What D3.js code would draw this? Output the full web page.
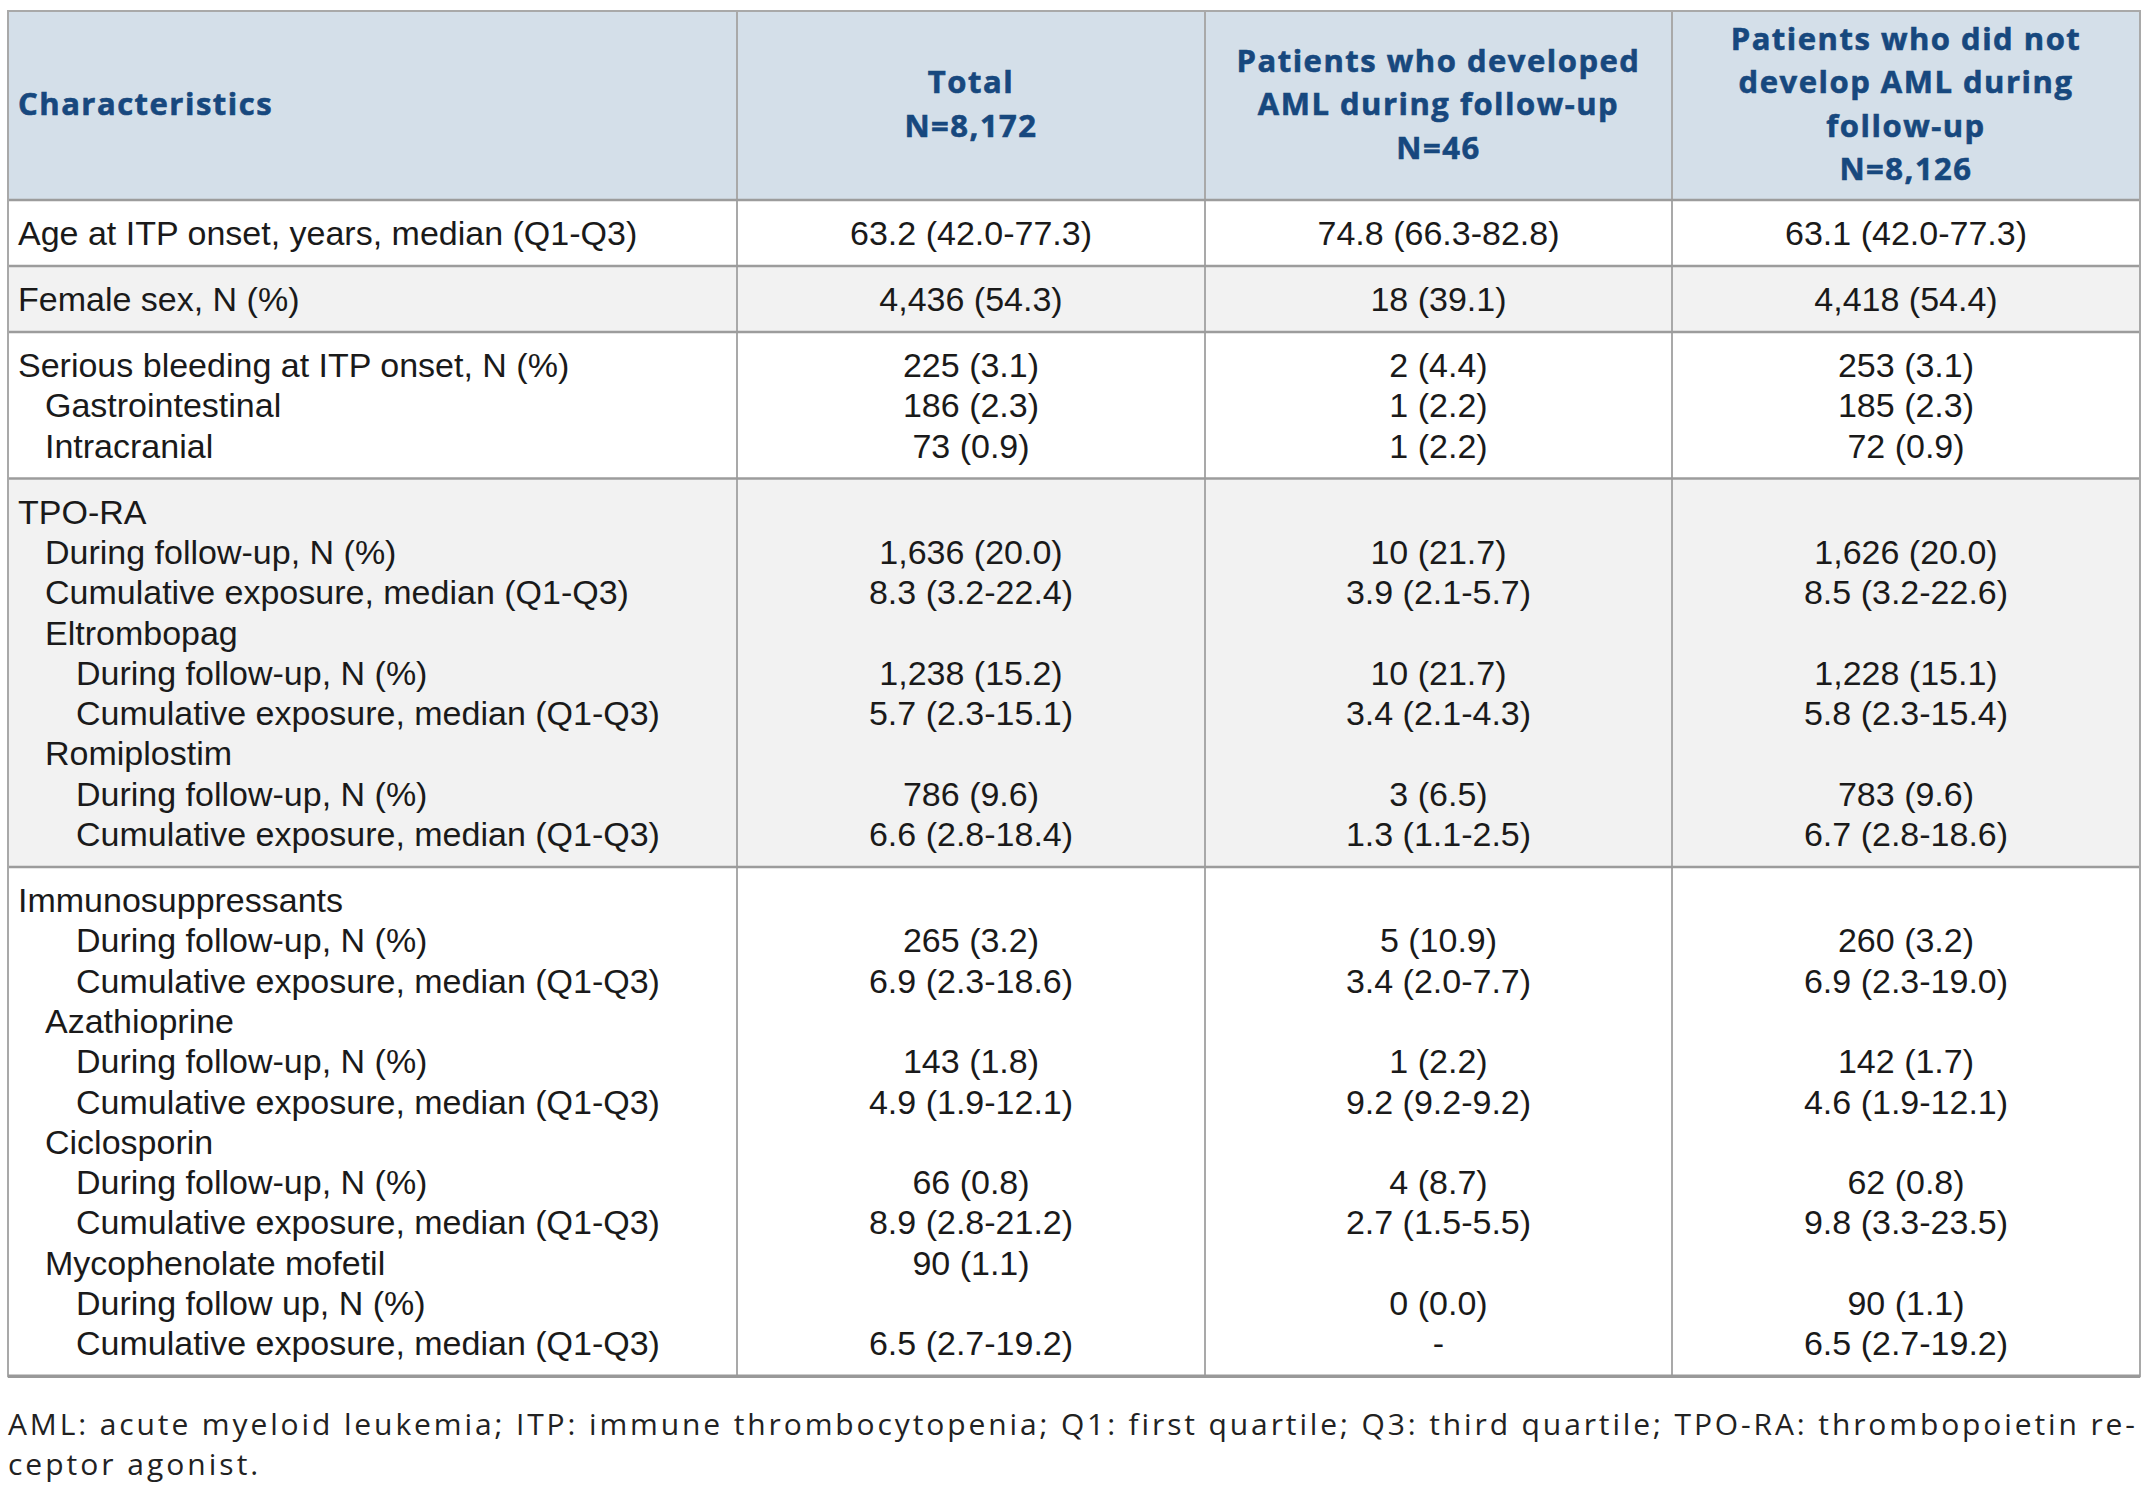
<!DOCTYPE html>
<html lang="en">
<head>
    <meta charset="UTF-8">
    <title>Baseline characteristics</title>
    <script src="https://d3js.org/d3.v7.min.js"></script>
    <style>
        body { margin: 0; background: #fff; }
        svg { display: block; }
    </style>
</head>
<body>
    <svg width="2152" height="1494"></svg>
    <script>
        // header lines per column
        const headers = [
            ["Characteristics"],
            ["Total", "N=8,172"],
            ["Patients who developed", "AML during follow-up", "N=46"],
            ["Patients who did not", "develop AML during", "follow-up", "N=8,126"]
        ];

        // row labels, indent level and row block
        const labels = [
            "Age at ITP onset, years, median (Q1-Q3)",
            "Female sex, N (%)",
            "Serious bleeding at ITP onset, N (%)",
            "Gastrointestinal",
            "Intracranial",
            "TPO-RA",
            "During follow-up, N (%)",
            "Cumulative exposure, median (Q1-Q3)",
            "Eltrombopag",
            "During follow-up, N (%)",
            "Cumulative exposure, median (Q1-Q3)",
            "Romiplostim",
            "During follow-up, N (%)",
            "Cumulative exposure, median (Q1-Q3)",
            "Immunosuppressants",
            "During follow-up, N (%)",
            "Cumulative exposure, median (Q1-Q3)",
            "Azathioprine",
            "During follow-up, N (%)",
            "Cumulative exposure, median (Q1-Q3)",
            "Ciclosporin",
            "During follow-up, N (%)",
            "Cumulative exposure, median (Q1-Q3)",
            "Mycophenolate mofetil",
            "During follow up, N (%)",
            "Cumulative exposure, median (Q1-Q3)"
        ];
        const levels = [0, 0, 0, 1, 1, 0, 1, 1, 1, 2, 2, 1, 2, 2, 0, 2, 2, 1, 2, 2, 1, 2, 2, 1, 2, 2];
        const blocks = [0, 1, 2, 2, 2, 3, 3, 3, 3, 3, 3, 3, 3, 3, 4, 4, 4, 4, 4, 4, 4, 4, 4, 4, 4, 4];

        const total = [
            "63.2 (42.0-77.3)", "4,436 (54.3)", "225 (3.1)", "186 (2.3)", "73 (0.9)",
            "", "1,636 (20.0)", "8.3 (3.2-22.4)", "", "1,238 (15.2)", "5.7 (2.3-15.1)",
            "", "786 (9.6)", "6.6 (2.8-18.4)",
            "", "265 (3.2)", "6.9 (2.3-18.6)", "", "143 (1.8)", "4.9 (1.9-12.1)",
            "", "66 (0.8)", "8.9 (2.8-21.2)", "90 (1.1)", "", "6.5 (2.7-19.2)"
        ];
        const withAml = [
            "74.8 (66.3-82.8)", "18 (39.1)", "2 (4.4)", "1 (2.2)", "1 (2.2)",
            "", "10 (21.7)", "3.9 (2.1-5.7)", "", "10 (21.7)", "3.4 (2.1-4.3)",
            "", "3 (6.5)", "1.3 (1.1-2.5)",
            "", "5 (10.9)", "3.4 (2.0-7.7)", "", "1 (2.2)", "9.2 (9.2-9.2)",
            "", "4 (8.7)", "2.7 (1.5-5.5)", "", "0 (0.0)", "-"
        ];
        const withoutAml = [
            "63.1 (42.0-77.3)", "4,418 (54.4)", "253 (3.1)", "185 (2.3)", "72 (0.9)",
            "", "1,626 (20.0)", "8.5 (3.2-22.6)", "", "1,228 (15.1)", "5.8 (2.3-15.4)",
            "", "783 (9.6)", "6.7 (2.8-18.6)",
            "", "260 (3.2)", "6.9 (2.3-19.0)", "", "142 (1.7)", "4.6 (1.9-12.1)",
            "", "62 (0.8)", "9.8 (3.3-23.5)", "", "90 (1.1)", "6.5 (2.7-19.2)"
        ];

        const footnote = [
            "AML: acute myeloid leukemia; ITP: immune thrombocytopenia; Q1: first quartile; Q3: third quartile; TPO-RA: thrombopoietin re-",
            "ceptor agonist."
        ];

        const svg = d3.select("svg");

        // layout
        const tLeft = 8, tRight = 2140, tTop = 11, headBottom = 200;
        const colEdges = [tLeft, 737, 1205, 1672, tRight];
        const pitch = 40.3, blockGap = 25.7, pad = 33;
        const lineY = d3.scaleLinear().domain([0, 1]).range([headBottom + pad, headBottom + pad + pitch]);
        const centerY = i => lineY(i) + blocks[i] * blockGap;
        const indent = d3.scaleOrdinal().domain([0, 1, 2]).range([18, 45, 76]);

        const nBlocks = d3.max(blocks) + 1;
        const blockRange = d3.range(nBlocks).map(b => {
            const idx = d3.range(labels.length).filter(i => blocks[i] === b);
            return [centerY(idx[0]) - pad, centerY(idx[idx.length - 1]) + pad];
        });
        const tableBottom = blockRange[nBlocks - 1][1];

        // header background
        svg.append("rect")
            .attr("x", tLeft).attr("y", tTop)
            .attr("width", tRight - tLeft).attr("height", headBottom - tTop)
            .attr("fill", "#d4dfe9");

        // row block backgrounds
        svg.selectAll("rect.block")
            .data(blockRange)
            .join("rect")
            .attr("class", "block")
            .attr("x", tLeft)
            .attr("y", d => d[0])
            .attr("width", tRight - tLeft)
            .attr("height", d => d[1] - d[0])
            .attr("fill", (d, i) => i % 2 ? "#f2f2f2" : "#ffffff");

        // vertical lines
        svg.selectAll("line.v")
            .data(colEdges.slice(1, -1))
            .join("line")
            .attr("class", "v")
            .attr("x1", d => d).attr("x2", d => d)
            .attr("y1", tTop).attr("y2", tableBottom)
            .attr("stroke", "#a9a9a9")
            .attr("stroke-width", 2);

        // horizontal lines
        svg.selectAll("line.h")
            .data([headBottom].concat(blockRange.slice(0, -1).map(d => d[1])))
            .join("line")
            .attr("class", "h")
            .attr("x1", tLeft).attr("x2", tRight)
            .attr("y1", d => d).attr("y2", d => d)
            .attr("stroke", "#9c9c9c")
            .attr("stroke-width", 2.5);

        // outer frame
        svg.append("rect")
            .attr("x", tLeft).attr("y", tTop)
            .attr("width", tRight - tLeft).attr("height", tableBottom - tTop)
            .attr("fill", "none")
            .attr("stroke", "#a9a9a9")
            .attr("stroke-width", 2);
        svg.append("line")
            .attr("x1", tLeft).attr("x2", tRight)
            .attr("y1", tableBottom).attr("y2", tableBottom)
            .attr("stroke", "#999")
            .attr("stroke-width", 3.5);

        // header text
        const headPitch = 43.5, headMid = 104;
        const headX = (i) => i === 0 ? 18 : (colEdges[i] + colEdges[i + 1]) / 2;
        headers.forEach((lines, i) => {
            const t = svg.append("text")
                .attr("text-anchor", i === 0 ? "start" : "middle")
                .attr("font-family", "'Open Sans', 'Noto Sans', sans-serif")
                .attr("font-weight", 700)
                .attr("font-size", 31)
                .attr("letter-spacing", 1.5)
                .attr("stroke", "#17487e")
                .attr("stroke-width", 0.6)
                .attr("fill", "#17487e");
            lines.forEach((s, j) => {
                const cy = headMid + (j - (lines.length - 1) / 2) * headPitch;
                t.append("tspan")
                    .attr("x", headX(i))
                    .attr("y", cy + 11)
                    .text(s);
            });
        });

        // body text
        const bodyFont = "'Liberation Sans', Arial, sans-serif";
        svg.append("g").selectAll("text")
            .data(labels)
            .join("text")
            .attr("x", (d, i) => indent(levels[i]))
            .attr("y", (d, i) => centerY(i) + 12)
            .attr("font-family", bodyFont)
            .attr("font-size", 34)
            .attr("fill", "#1a1a1a")
            .text(d => d);

        [total, withAml, withoutAml].forEach((col, c) => {
            svg.append("g").selectAll("text")
                .data(col)
                .join("text")
                .attr("x", (colEdges[c + 1] + colEdges[c + 2]) / 2)
                .attr("y", (d, i) => centerY(i) + 12)
                .attr("text-anchor", "middle")
                .attr("font-family", bodyFont)
                .attr("font-size", 34)
                .attr("fill", "#1a1a1a")
                .text(d => d);
        });

        // footnote
        svg.append("g").selectAll("text")
            .data(footnote)
            .join("text")
            .attr("x", 8)
            .attr("y", (d, i) => 1435 + i * 40)
            .attr("font-family", "'Open Sans', 'Noto Sans', sans-serif")
            .attr("font-size", 30)
            .attr("letter-spacing", 3)
            .attr("fill", "#222")
            .attr("textLength", (d, i) => i === 0 ? 2130 : null)
            .attr("lengthAdjust", "spacing")
            .text(d => d);
    </script>
</body>
</html>
